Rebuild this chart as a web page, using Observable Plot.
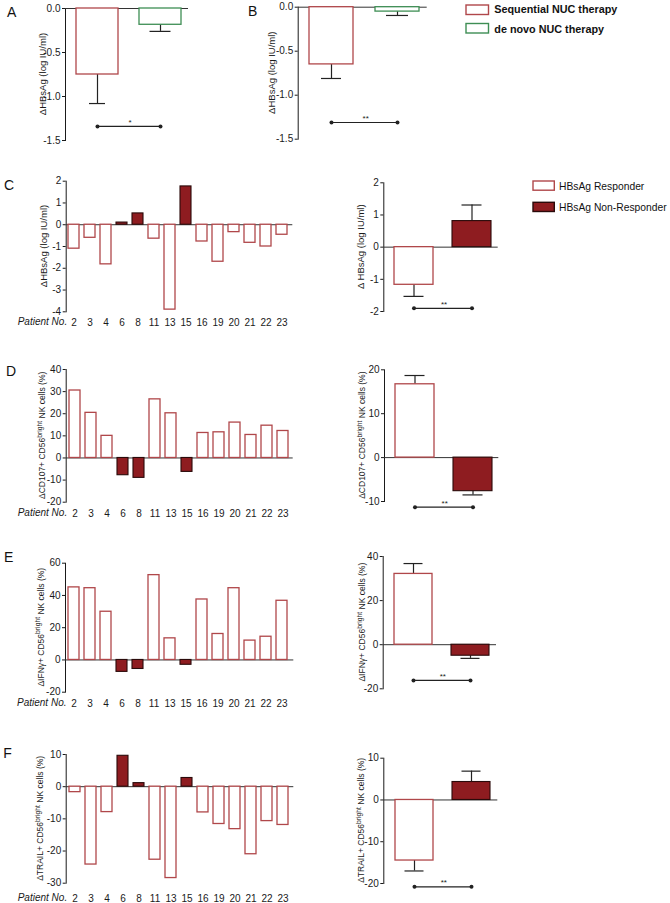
<!DOCTYPE html>
<html><head><meta charset="utf-8">
<script src="https://cdn.jsdelivr.net/npm/d3@7"></script>
<script src="https://cdn.jsdelivr.net/npm/@observablehq/plot@0.6"></script>
<style>
html,body{margin:0;padding:0;background:#fff}
#fig{position:relative;width:670px;height:903px;overflow:hidden;background:#fff}
#fig svg{position:absolute}
</style></head><body><div id="fig"></div>
<script>
// ---------------- data ----------------
const therapies = ["Sequential NUC therapy", "de novo NUC therapy"];
const hbsA_mean = [-0.75, -0.185];
const hbsA_sem = [0.33, 0.075];
const hbsB_mean = [-0.65, -0.05];
const hbsB_sem = [0.16, 0.044];

const patients = [2, 3, 4, 6, 8, 11, 13, 15, 16, 19, 20, 21, 22, 23];
const nonResponders = [6, 8, 15];
const dHBsAg = [-1.1, -0.6, -1.82, 0.1, 0.52, -0.64, -3.9, 1.76, -0.77, -1.7, -0.34, -0.83, -1.0, -0.46];
const dCD107 = [30.5, 20.4, 10, -7.8, -9.0, 26.5, 20.2, -6.3, 11.3, 11.6, 16, 10.4, 14.6, 12.2];
const dIFNg = [45, 44.5, 29.9, -7.4, -5.6, 52.6, 13.4, -3.0, 37.5, 16.1, 44.5, 12, 14.4, 36.7];
const dTRAIL = [-1.7, -24.2, -7.9, 9.6, 1.1, -22.7, -28.4, 2.7, -8, -11.6, -13.2, -21.0, -10.7, -11.9];

const groups = ["HBsAg Responder", "HBsAg Non-Responder"];
const sumHBsAg_mean = [-1.17, 0.81], sumHBsAg_sem = [0.36, 0.5];
const sumCD107_mean = [16.7, -7.65], sumCD107_sem = [2.0, 0.85];
const sumIFNg_mean = [32.1, -5.0], sumIFNg_sem = [4.7, 1.2];
const sumTRAIL_mean = [-14.5, 4.3], sumTRAIL_sem = [2.5, 2.6];

// significance bars: [level, label]
const sigLevels = {A: -1.34, B: -1.31, C: -1.9, D: -11.3, E: -16.2, F: -20.8};
const sigLabels = {A: "*", B: "**", C: "**", D: "**", E: "**", F: "**"};

const ticksAB = [0, -0.5, -1, -1.5];
const ticksC = [2, 1, 0, -1, -2, -3, -4];
const ticksCsum = [2, 1, 0, -1, -2];
const ticksD = [40, 30, 20, 10, 0, -10, -20];
const ticksDsum = [20, 10, 0, -10];
const ticksE = [60, 40, 20, 0, -20];
const ticksEsum = [40, 20, 0, -20];
const ticksF = [10, 0, -10, -20, -30];
const ticksFsum = [10, 0, -10, -20];

// ---------------- style ----------------
const FONT = "'Liberation Sans', Arial, Helvetica, sans-serif";
const COL = {open: "#b0474a", fill: "#8e1c20", edge: "#2a0a0a", green: "#3e8e54", axis: "#333", text: "#1a1a1a"};
const fig = document.getElementById("fig");

function build(cfg) {
  const [sx, sy, sw, sh] = cfg.box;
  const [x0, y0, x1, y1] = cfg.frame;
  const plot = Plot.plot({
    width: sw, height: sh,
    marginLeft: x0 - sx, marginRight: sx + sw - x1, marginTop: y0 - sy, marginBottom: sy + sh - y1,
    style: {fontFamily: FONT, fontSize: "10px", color: COL.text, background: "transparent", overflow: "visible"},
    x: Object.assign({type: "band", domain: cfg.xDomain, label: null,
      axis: cfg.xPad == null ? null : "bottom", tickSize: 0, tickPadding: cfg.xPad == null ? 3 : cfg.xPad}, cfg.band),
    y: {domain: cfg.yDomain, ticks: cfg.yTicks, tickFormat: cfg.yFormat || (d => String(d)),
      tickSize: 3, tickPadding: 2, line: true, label: null},
    marks: cfg.marks
  });
  plot.style.left = sx + "px";
  plot.style.top = sy + "px";
  const svg = d3.select(plot.tagName.toLowerCase() === "svg" ? plot : plot.querySelector("svg"));
  // rotated y label
  if (cfg.ylab) {
    const t = svg.append("text")
      .attr("transform", `translate(${cfg.ylab.x - sx},${(y0 + y1) / 2 - sy}) rotate(-90)`)
      .attr("text-anchor", "middle").attr("font-size", cfg.ylab.size).attr("fill", COL.text)
      .attr("font-family", FONT);
    let prevSup = false;
    for (const p of cfg.ylab.parts) {
      const ts = t.append("tspan").text(p.t);
      if (p.sup) { ts.attr("font-size", cfg.ylab.size * 0.8).attr("dy", -cfg.ylab.size * 0.4); prevSup = true; }
      else if (prevSup) { ts.attr("dy", cfg.ylab.size * 0.4); prevSup = false; }
    }
  }
  if (cfg.xPad != null) {
    svg.append("text").attr("x", x0 + 1.5 - sx).attr("y", y1 - sy + cfg.xPad + 7.1)
      .attr("text-anchor", "end").attr("font-style", "italic").attr("font-size", 10)
      .attr("fill", COL.text).attr("font-family", FONT).text("Patient No.");
  }
  fig.appendChild(plot);
}

function patientMarks(values) {
  const rows = patients.map((p, i) => ({patient: String(p), value: values[i], non: nonResponders.includes(p)}));
  return [
    Plot.ruleY([0], {stroke: COL.axis, strokeWidth: 1}),
    Plot.barY(rows.filter(d => !d.non), {x: "patient", y: "value", fill: "white", stroke: COL.open, strokeWidth: 1.3}),
    Plot.barY(rows.filter(d => d.non), {x: "patient", y: "value", fill: COL.fill, stroke: COL.edge, strokeWidth: 1.1})
  ];
}

function summaryMarks(cats, mean, sem, key, styles, capInset) {
  const rows = cats.map((g, i) => ({group: g, mean: mean[i], end: mean[i] + Math.sign(mean[i]) * sem[i]}));
  const sig = [{from: cats[0], to: cats[1], level: sigLevels[key], label: sigLabels[key]}];
  return [
    Plot.ruleY([0], {stroke: COL.axis, strokeWidth: 1}),
    Plot.ruleX(rows, {x: "group", y1: "mean", y2: "end", stroke: "#222", strokeWidth: 1.2}),
    ...rows.map((r, i) => Plot.tickY([r], {x: "group", y: "end", stroke: "#222", strokeWidth: 1.2,
      insetLeft: capInset[i], insetRight: capInset[i]})),
    ...rows.map((r, i) => Plot.barY([r], {x: "group", y: "mean", fill: styles[i].fill, stroke: styles[i].stroke, strokeWidth: styles[i].sw})),
    Plot.link(sig, {x1: "from", x2: "to", y1: "level", y2: "level", stroke: "#222", strokeWidth: 1.2,
      markerStart: "dot", markerEnd: "dot"}),
    Plot.text(sig, {y: "level", text: "label", frameAnchor: "middle", dx: 3, dy: -4, fontSize: 8, fill: "#222"})
  ];
}

const respStyles = [{fill: "white", stroke: COL.open, sw: 1.3}, {fill: COL.fill, stroke: COL.edge, sw: 1.1}];
const therapyStyles = [{fill: "white", stroke: COL.open, sw: 1.3}, {fill: "white", stroke: COL.green, sw: 1.3}];
const sumBand = {paddingInner: 0.33, paddingOuter: 0.15, align: 0.62};
const abBand = {paddingInner: 0.33, paddingOuter: 0.13, align: 0.62};
const patBand = {paddingInner: 0.32, paddingOuter: 0.2, align: 0.35};
const pDomain = patients.map(String);
const fmt1 = d => d.toFixed(1);
const hbsLab = [{t: "\u0394HBsAg (log IU/ml)"}];
const nk = (m) => [{t: "\u0394" + m + " CD56"}, {t: "bright", sup: true}, {t: " NK cells (%)"}];

// A
build({box: [0, 0, 210, 150], frame: [65, 8, 188, 140], xDomain: therapies, band: abBand,
  yDomain: [-1.5, 0], yTicks: ticksAB, yFormat: fmt1,
  ylab: {x: 45.5, size: 9.5, parts: hbsLab},
  marks: summaryMarks(therapies, hbsA_mean, hbsA_sem, "A", therapyStyles, [13, 10.5])});
// B
build({box: [222, 0, 215, 150], frame: [297.7, 6.7, 426.7, 138.7], xDomain: therapies, band: abBand,
  yDomain: [-1.5, 0], yTicks: ticksAB, yFormat: fmt1,
  ylab: {x: 275, size: 9.5, parts: hbsLab},
  marks: summaryMarks(therapies, hbsB_mean, hbsB_sem, "B", therapyStyles, [12, 11])});

// C
build({box: [0, 170, 330, 168], frame: [65.7, 180.7, 292.3, 311.3], xDomain: pDomain, band: patBand, xPad: 7,
  yDomain: [-4, 2], yTicks: ticksC, ylab: {x: 46.5, size: 9.5, parts: hbsLab}, marks: patientMarks(dHBsAg)});
build({box: [340, 170, 170, 160], frame: [383.3, 182.3, 497.7, 311], xDomain: groups, band: sumBand,
  yDomain: [-2, 2], yTicks: ticksCsum, ylab: {x: 364, size: 9.5, parts: [{t: "\u0394 HBsAg (log IU/ml)"}]},
  marks: summaryMarks(groups, sumHBsAg_mean, sumHBsAg_sem, "C", respStyles, [9.5, 9.5])});

// D
build({box: [0, 360, 330, 168], frame: [65.7, 369, 292.7, 501.7], xDomain: pDomain, band: patBand, xPad: 7.5,
  yDomain: [-20, 40], yTicks: ticksD, ylab: {x: 45, size: 8.5, parts: nk("CD107+")}, marks: patientMarks(dCD107)});
build({box: [340, 360, 170, 165], frame: [384, 369.3, 498.3, 501], xDomain: groups, band: sumBand,
  yDomain: [-10, 20], yTicks: ticksDsum, ylab: {x: 365, size: 8.5, parts: nk("CD107+")},
  marks: summaryMarks(groups, sumCD107_mean, sumCD107_sem, "D", respStyles, [9.5, 9.5])});

// E
build({box: [0, 550, 330, 168], frame: [65, 562.7, 293.3, 691.7], xDomain: pDomain, band: patBand, xPad: 7.5,
  yDomain: [-20, 60], yTicks: ticksE, ylab: {x: 43.5, size: 8.5, parts: nk("IFN\u03b3+")}, marks: patientMarks(dIFNg)});
build({box: [340, 545, 170, 160], frame: [382.7, 556, 496, 688.3], xDomain: groups, band: sumBand,
  yDomain: [-20, 40], yTicks: ticksEsum, ylab: {x: 365, size: 8.5, parts: nk("IFN\u03b3+")},
  marks: summaryMarks(groups, sumIFNg_mean, sumIFNg_sem, "E", respStyles, [9.5, 9.5])});

// F
build({box: [0, 745, 330, 158], frame: [65.7, 754, 293.3, 882.7], xDomain: pDomain, band: patBand, xPad: 11.5,
  yDomain: [-30, 10], yTicks: ticksF, ylab: {x: 43, size: 8.5, parts: nk("TRAIL+")}, marks: patientMarks(dTRAIL)});
build({box: [340, 745, 170, 158], frame: [383.3, 757.7, 497.3, 883], xDomain: groups, band: sumBand,
  yDomain: [-20, 10], yTicks: ticksFsum, ylab: {x: 364, size: 8.5, parts: nk("TRAIL+")},
  marks: summaryMarks(groups, sumTRAIL_mean, sumTRAIL_sem, "F", respStyles, [9.5, 9.5])});

// ---------------- panel letters & legends ----------------
const ov = d3.select(fig).append("svg").attr("width", 670).attr("height", 903)
  .style("left", "0px").style("top", "0px").style("pointer-events", "none")
  .attr("font-family", FONT);
const letters = [["A", 7, 16.7], ["B", 248, 15.7], ["C", 4, 190], ["D", 6, 376], ["E", 4, 561.7], ["F", 3.3, 758.3]];
for (const [l, x, y] of letters) ov.append("text").attr("x", x).attr("y", y).attr("font-size", 14).attr("fill", "#111").text(l);

const legendTherapy = [
  {label: therapies[0], stroke: COL.open, fill: "white", y: 5, base: 13.3},
  {label: therapies[1], stroke: COL.green, fill: "white", y: 23.5, base: 32.7}
];
for (const d of legendTherapy) {
  ov.append("rect").attr("x", 466).attr("y", d.y).attr("width", 22.5).attr("height", 9.5)
    .attr("fill", d.fill).attr("stroke", d.stroke).attr("stroke-width", 1.4);
  ov.append("text").attr("x", 494.3).attr("y", d.base).attr("font-size", 10.8).attr("font-weight", "bold")
    .attr("fill", "#111").text(d.label);
}
const legendResp = [
  {label: groups[0], stroke: COL.open, fill: "white", y: 181, base: 190},
  {label: groups[1], stroke: COL.edge, fill: COL.fill, y: 202.3, base: 210.7}
];
for (const d of legendResp) {
  ov.append("rect").attr("x", 533).attr("y", d.y).attr("width", 21.3).attr("height", 9.2)
    .attr("fill", d.fill).attr("stroke", d.stroke).attr("stroke-width", 1.4);
  ov.append("text").attr("x", 559).attr("y", d.base).attr("font-size", 10.3)
    .attr("fill", "#111").text(d.label);
}
</script></body></html>
